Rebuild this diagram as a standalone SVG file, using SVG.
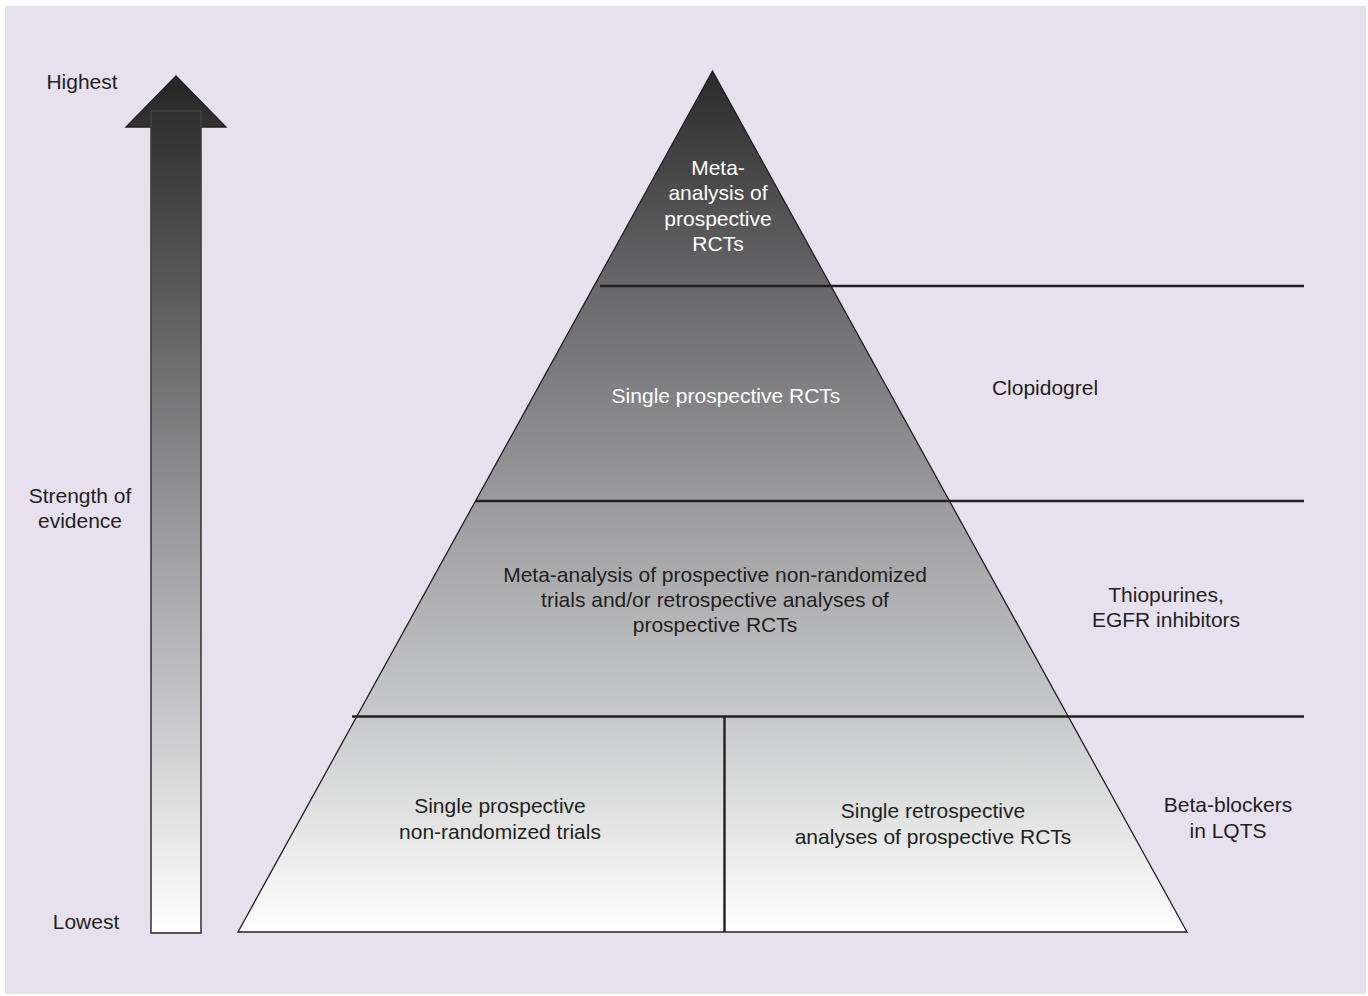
<svg xmlns="http://www.w3.org/2000/svg" width="1368" height="996" viewBox="0 0 1368 996">
  <defs>
    <linearGradient id="pyrGrad" gradientUnits="userSpaceOnUse" x1="0" y1="71" x2="0" y2="932">
      <stop offset="0" stop-color="#2a2a2a"/>
      <stop offset="0.25" stop-color="#68686a"/>
      <stop offset="0.5" stop-color="#9b9b9d"/>
      <stop offset="0.75" stop-color="#c8c9ca"/>
      <stop offset="1" stop-color="#ffffff"/>
    </linearGradient>
    <linearGradient id="arrowGrad" gradientUnits="userSpaceOnUse" x1="0" y1="76" x2="0" y2="933">
      <stop offset="0" stop-color="#262626"/>
      <stop offset="0.25" stop-color="#5a5a5b"/>
      <stop offset="0.5" stop-color="#949496"/>
      <stop offset="0.75" stop-color="#c9c9cb"/>
      <stop offset="1" stop-color="#ffffff"/>
    </linearGradient>
    <style>
      .lbl { font-family: "Liberation Sans", Arial, sans-serif; font-size: 21px; fill: #231f20; text-anchor: middle; }
      .lbl-w { font-family: "Liberation Sans", Arial, sans-serif; font-size: 21px; fill: #ffffff; text-anchor: middle; }
      .tier { stroke: #231f20; stroke-width: 2.4; fill: none; }
      .edge { stroke: #231f20; stroke-width: 1.3; }
    </style>
  </defs>

  <!-- backdrop -->
  <rect x="0" y="0" width="1368" height="996" fill="#ffffff"/>
  <rect x="5" y="6" width="1361" height="988" fill="#e7e1ef"/>

  <!-- strength-of-evidence arrow -->
  <g id="evidence-arrow">
    <polygon points="176,76 226,127 201,127 201,933 151,933 151,127 126,127" fill="url(#arrowGrad)" class="edge"/>
    <rect x="151" y="111" width="50" height="822" fill="none" stroke="#555" stroke-width="0.8"/>
    <text class="lbl" x="82" y="89">Highest</text>
    <text class="lbl" x="80" y="503">Strength of</text>
    <text class="lbl" x="80" y="528">evidence</text>
    <text class="lbl" x="86" y="929">Lowest</text>
  </g>

  <!-- pyramid body -->
  <g id="pyramid">
    <polygon points="712.5,71 1187,932 238,932" fill="url(#pyrGrad)" class="edge"/>
  </g>

  <!-- tier dividers -->
  <g id="connectors">
    <line class="tier" x1="600" y1="286" x2="1304" y2="286"/>
    <line class="tier" x1="476" y1="501" x2="1304" y2="501"/>
    <line class="tier" x1="352" y1="716.5" x2="1304" y2="716.5"/>
    <line class="tier" x1="724.5" y1="716" x2="724.5" y2="932"/>
  </g>

  <g id="tier-1">
    <text class="lbl-w" x="718" y="175">Meta-</text>
    <text class="lbl-w" x="718" y="200">analysis of</text>
    <text class="lbl-w" x="718" y="226">prospective</text>
    <text class="lbl-w" x="718" y="251">RCTs</text>
  </g>

  <g id="tier-2">
    <text class="lbl-w" x="726" y="403">Single prospective RCTs</text>
  </g>

  <g id="tier-3">
    <text class="lbl" x="715" y="582">Meta-analysis of prospective non-randomized</text>
    <text class="lbl" x="715" y="607">trials and/or retrospective analyses of</text>
    <text class="lbl" x="715" y="632">prospective RCTs</text>
  </g>

  <g id="tier-4a">
    <text class="lbl" x="500" y="813">Single prospective</text>
    <text class="lbl" x="500" y="839">non-randomized trials</text>
  </g>

  <g id="tier-4b">
    <text class="lbl" x="933" y="818">Single retrospective</text>
    <text class="lbl" x="933" y="844">analyses of prospective RCTs</text>
  </g>

  <g id="example-clopidogrel">
    <text class="lbl" x="1045" y="395">Clopidogrel</text>
  </g>

  <g id="example-thiopurines">
    <text class="lbl" x="1166" y="602">Thiopurines,</text>
    <text class="lbl" x="1166" y="627">EGFR inhibitors</text>
  </g>

  <g id="example-betablockers">
    <text class="lbl" x="1228" y="812">Beta-blockers</text>
    <text class="lbl" x="1228" y="838">in LQTS</text>
  </g>
</svg>
